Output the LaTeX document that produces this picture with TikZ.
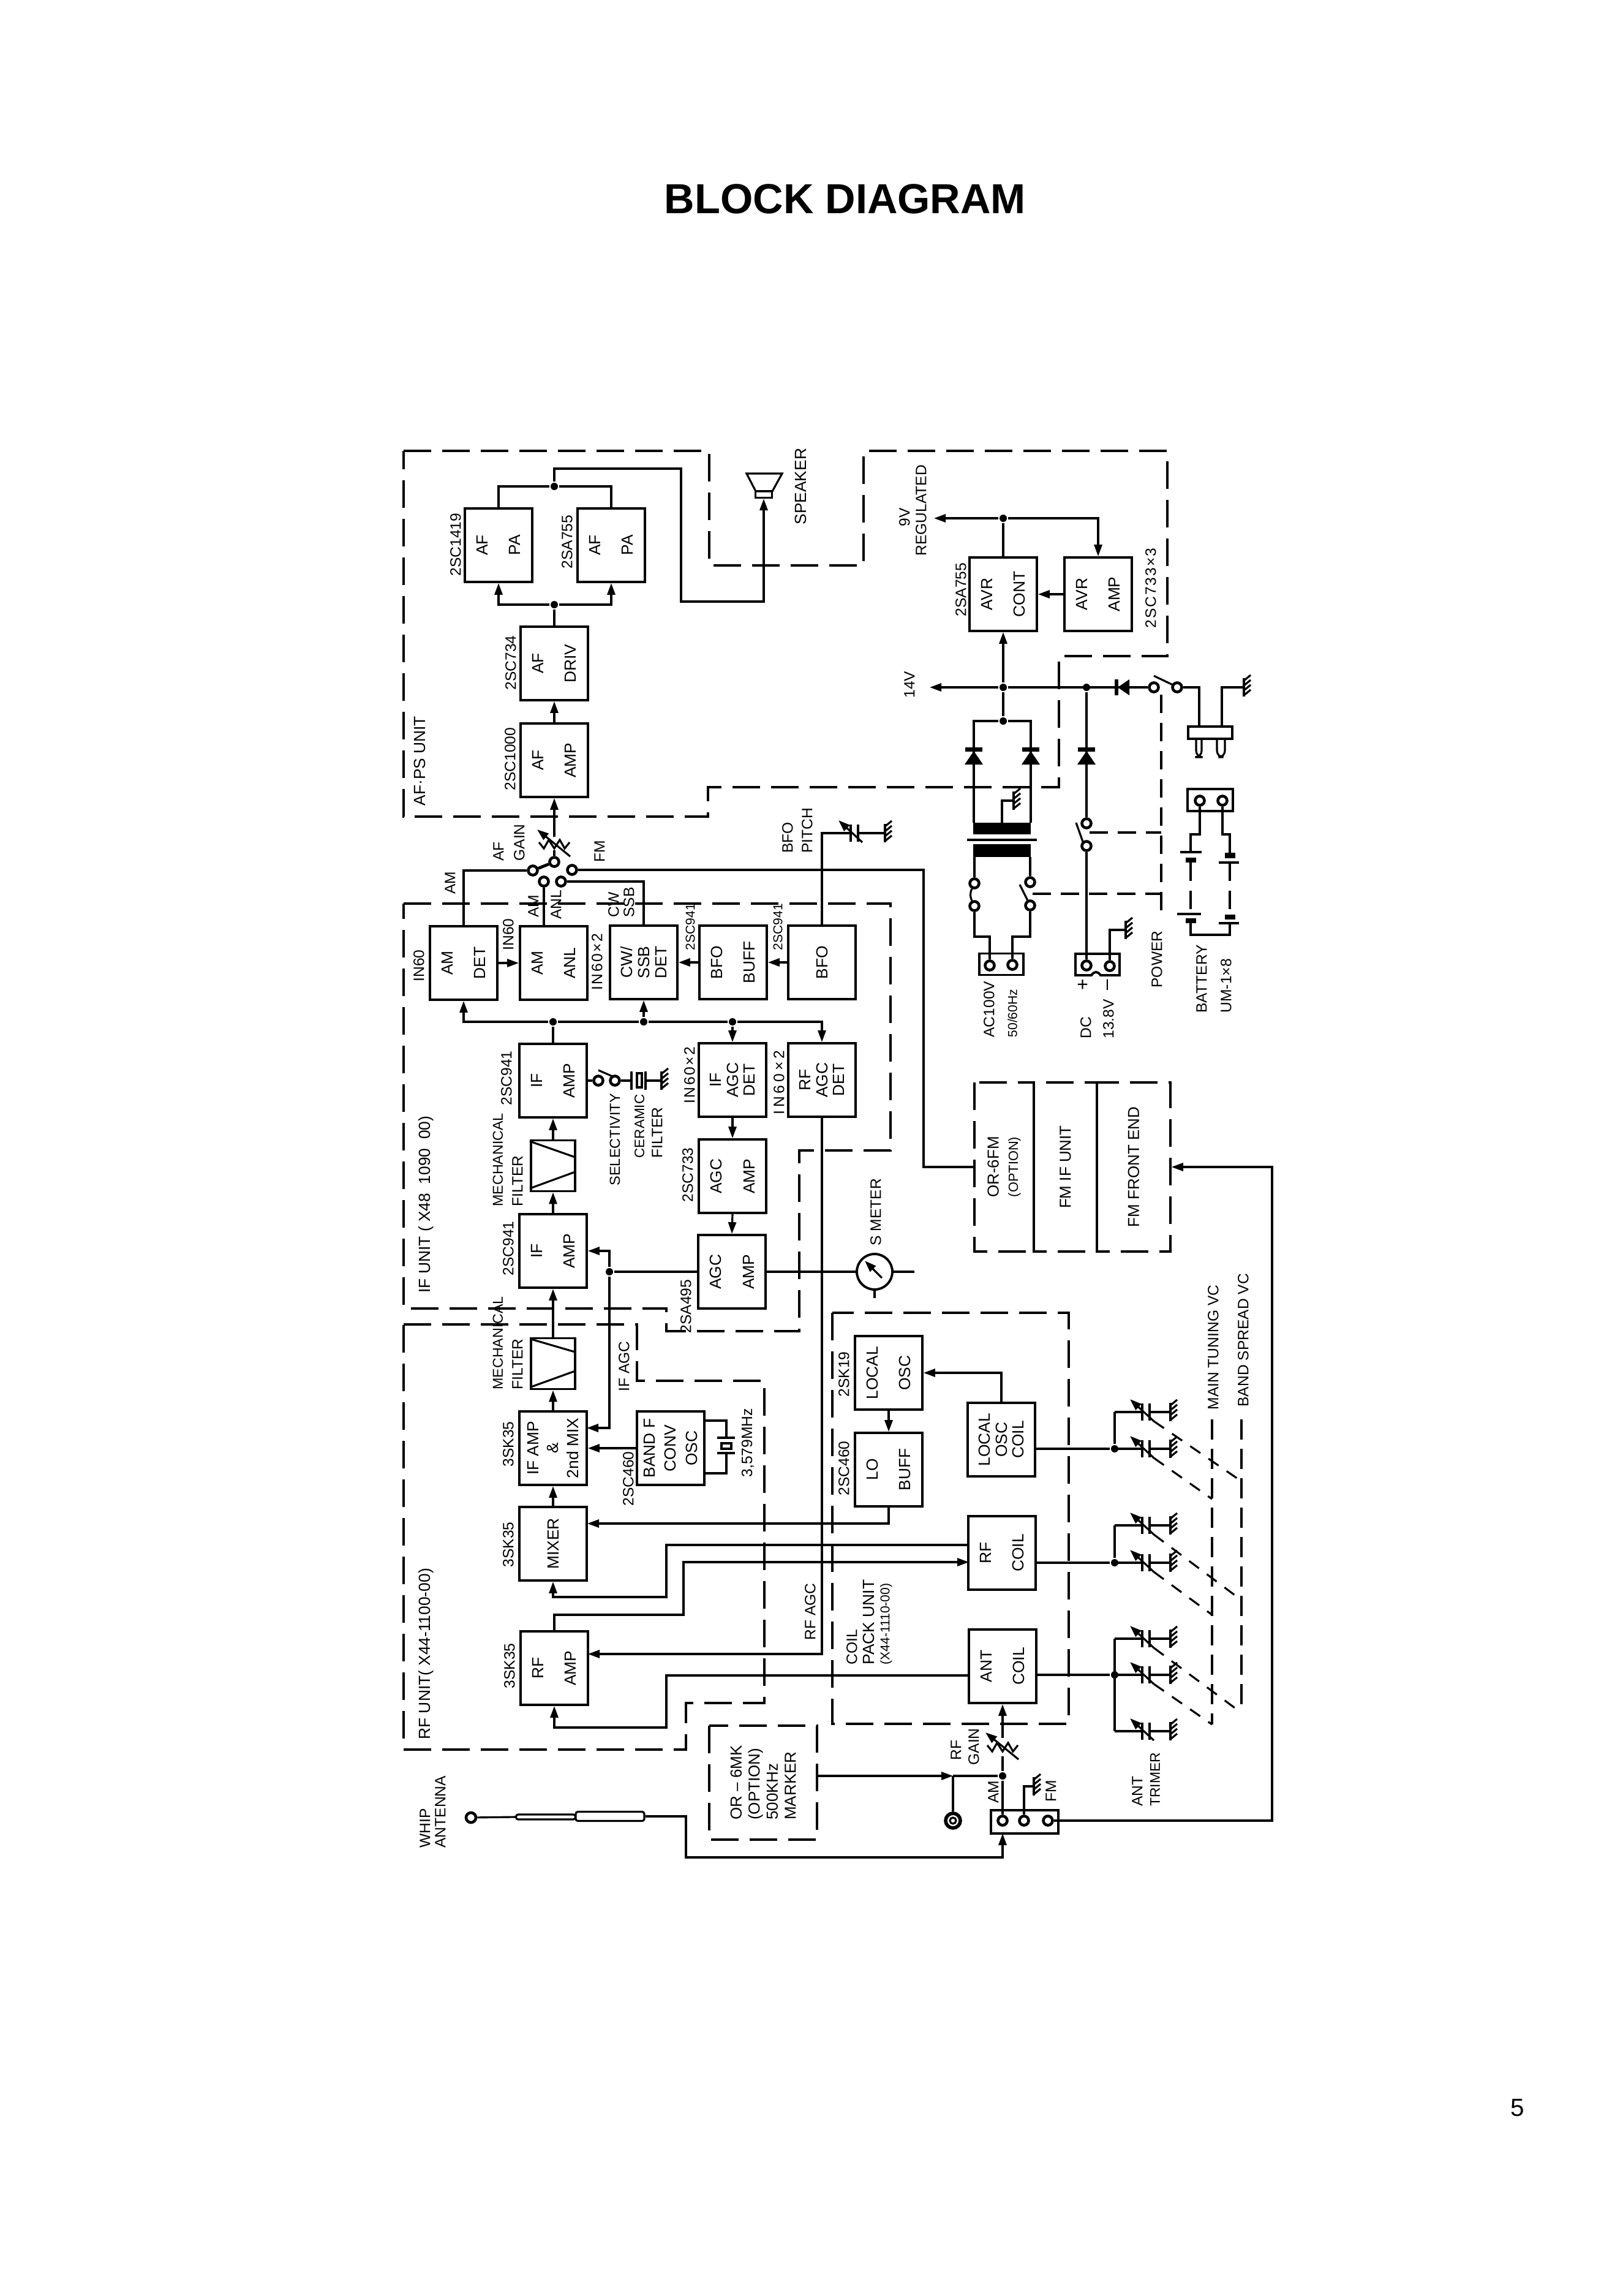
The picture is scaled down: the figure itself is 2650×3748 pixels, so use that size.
\documentclass[tikz,border=0pt]{standalone}
\usepackage{fontspec}
\setmainfont{Liberation Sans}
\usetikzlibrary{arrows.meta,shapes.geometric}

\tikzset{
    every path/.style={line width=0.9pt},
    arr/.style={-{Triangle[length=1.9mm,width=1.3mm]}},
    framedash/.style={line width=1pt, dash pattern=on 4.5mm off 1.8mm},
    linkdash/.style={line width=0.9pt, dash pattern=on 3mm off 1.6mm},
    gangdash/.style={line width=0.9pt, dash pattern=on 2mm off 1.6mm},
    vcdash/.style={line width=0.9pt, dash pattern=on 3.3mm off 1.5mm},
    blockbox/.style={draw, line width=1.1pt, rotate=90, minimum width=12cm/10, minimum height=11cm/10, inner sep=0pt, align=center, font=\fontsize{7.5}{15.3}\selectfont},
    blockthree/.style={blockbox, font=\fontsize{7.5}{7.9}\selectfont},
    fmbox/.style={draw, framedash, rotate=90, minimum width=27.6mm, inner sep=0pt, align=center, font=\fontsize{7.4}{9}\selectfont},
    filterbox/.style={draw, line width=1.1pt, minimum width=7.2mm, minimum height=8.3mm, inner sep=0pt},
    lbl/.style={rotate=90, anchor=west, inner sep=0pt, font=\fontsize{7}{8}\selectfont},
    lblsmall/.style={lbl, font=\fontsize{6}{7}\selectfont},
    lblwide/.style={lbl, font=\fontsize{7}{8}\selectfont\addfontfeature{LetterSpace=#1}},
    junc/.style={circle, fill=black, minimum size=1.2mm, inner sep=0pt},
    contact/.style={circle, draw, line width=1.3pt, fill=white, minimum size=1.5mm, inner sep=0pt},
    gnd/.pic={
        \draw (0,-15) -- (0,15);
        \foreach \t in {-11,-3,5,13}
            \draw (0,\t) -- (11,\t-9);
    },
    vcap/.pic={
        \draw (0,-14) -- (0,14);
        \draw (12,-14) -- (12,14);
        \draw[arr] (19,15) -- (-20,-21);
    },
    pot/.pic={
        \draw (-25,-3) -- (-17,7) -- (-9,-7) -- (0,7) -- (9,-7) -- (17,7) -- (25,-3);
        \draw[arr] (26,20) -- (-28,-24);
    },
}

\begin{document}
\begin{tikzpicture}[x=0.1mm,y=-0.1mm]
    \useasboundingbox (0,0) rectangle (2650,3748);

    \node[font=\bfseries\fontsize{19.5}{22}\selectfont, inner sep=0pt] (title) at (1380,325) {BLOCK DIAGRAM};
    \node[font=\fontsize{11.5}{13}\selectfont, inner sep=0pt] (pagenum) at (2478,3441) {5};

    % Unit frames
    \draw[framedash] (659,736) -- (1158,736) -- (1158,923) -- (1410,923) -- (1410,736) -- (1906,736) -- (1906,1071) -- (1729,1071) -- (1729,1285) -- (1156,1285) -- (1156,1333) -- (659,1333) -- cycle;
    \draw[framedash] (659,1475) -- (1454,1475) -- (1454,1878) -- (1305,1878) -- (1305,2173) -- (1088,2173) -- (1088,2136) -- (659,2136) -- cycle;
    \draw[framedash] (659,2162) -- (1040,2162) -- (1040,2254) -- (1248,2254) -- (1248,2780) -- (1120,2780) -- (1120,2856) -- (659,2856) -- cycle;
    \draw[framedash] (1359,2143) rectangle (1745,2814);

    % AF and PS blocks
    \node[blockbox] (afpa1) at (814,890) {AF\\PA};
    \node[blockbox] (afpa2) at (998,890) {AF\\PA};
    \node[blockbox] (afdriv) at (905,1083) {AF\\DRIV};
    \node[blockbox] (afamp) at (905,1241) {AF\\AMP};
    \node[blockbox] (avrcont) at (1638,970) {AVR\\CONT};
    \node[blockbox] (avramp) at (1793,970) {AVR\\AMP};

    % IF unit blocks
    \node[blockbox] (amdet) at (757,1572) {AM\\DET};
    \node[blockbox] (amanl) at (904,1572) {AM\\ANL};
    \node[blockthree] (cwdet) at (1051,1571) {CW/\\SSB\\DET};
    \node[blockbox] (bfobuff) at (1197,1571) {BFO\\BUFF};
    \node[blockbox] (bfo) at (1342,1571) {BFO};
    \node[blockbox] (ifamp2) at (903,1764) {IF\\AMP};
    \node[filterbox] (mfilt1) at (903,1903) {};
    \node[blockbox] (ifamp1) at (903,2042) {IF\\AMP};
    \node[blockthree] (ifagc) at (1196,1763) {IF\\AGC\\DET};
    \node[blockthree] (rfagc) at (1342,1763) {RF\\AGC\\DET};
    \node[blockbox] (agcamp1) at (1196,1920) {AGC\\AMP};
    \node[blockbox] (agcamp2) at (1195,2076) {AGC\\AMP};

    % RF unit blocks
    \node[filterbox] (mfilt2) at (903,2226) {};
    \node[blockthree, font=\fontsize{7.5}{9.2}\selectfont] (ifmix) at (903,2364) {IF AMP\\\&\\2nd MIX};
    \node[blockthree, font=\fontsize{7.5}{9.8}\selectfont] (bandf) at (1095,2364) {BAND F\\CONV\\OSC};
    \node[blockbox] (mixer) at (903,2520) {MIXER};
    \node[blockbox] (rfamp) at (905,2723) {RF\\AMP};

    % Coil pack blocks
    \node[blockbox] (localosc) at (1451,2241) {LOCAL\\OSC};
    \node[blockbox] (lobuff) at (1451,2399) {LO\\BUFF};
    \node[blockthree] (osccoil) at (1635,2350) {LOCAL\\OSC\\COIL};
    \node[blockbox] (rfcoil) at (1636,2535) {RF\\COIL};
    \node[blockbox] (antcoil) at (1637,2720) {ANT\\COIL};

    % FM and marker options
    \node[fmbox, minimum height=9.7mm] (orfm) at (1639.5,1905) {OR-6FM\\{\fontsize{6.2}{7}\selectfont (OPTION)}};
    \node[fmbox, minimum height=10.3mm] (fmif) at (1739.5,1905) {FM IF UNIT};
    \node[fmbox, minimum height=12mm] (fmfe) at (1851,1905) {FM FRONT END};
    \node[draw, framedash, rotate=90, minimum width=18.6mm, minimum height=17.6mm, inner sep=0pt, align=left, font=\fontsize{7.4}{8.4}\selectfont] (marker) at (1246,2910) {OR -- 6MK\\(OPTION)\\500KHz\\MARKER};

    % Junction dots
    \node[junc] (jpa) at (905,987) {};
    \node[junc] (jout) at (905,794) {};
    \node[junc] (jreg) at (1638,846) {};
    \node[junc] (jbus) at (1638,1122) {};
    \node[junc] (jrect) at (1638,1177) {};
    \node[junc] (jdc) at (1774,1122) {};
    \node[junc] (jdet1) at (903,1668) {};
    \node[junc] (jdet2) at (1051,1668) {};
    \node[junc] (jdet3) at (1196,1668) {};
    \node[junc] (jagc) at (995,2076) {};
    \node[junc] (jlo) at (1820,2365) {};
    \node[junc] (jrf) at (1820,2551) {};
    \node[junc] (jant) at (1820,2734) {};
    \node[junc] (jgain) at (1637,2899) {};

    % Contacts
    \node[contact] (cout) at (905,1407) {};
    \node[contact] (cam) at (870,1421) {};
    \node[contact] (canl) at (888,1439) {};
    \node[contact] (ccw) at (916,1439) {};
    \node[contact] (cfm) at (934,1420) {};
    \node[contact] (cpw1) at (1884,1122) {};
    \node[contact] (cpw2) at (1922,1122) {};
    \node[contact] (cac1) at (1591,1442) {};
    \node[contact] (cac2) at (1591,1479) {};
    \node[contact] (cac3) at (1682,1440) {};
    \node[contact] (cac4) at (1682,1478) {};
    \node[contact] (cdc1) at (1774,1344) {};
    \node[contact] (cdc2) at (1774,1381) {};
    \node[contact] (csel1) at (977,1764) {};
    \node[contact] (csel2) at (1004,1764) {};

    % Free ends
    \coordinate (afgaintop) at (905,1366);
    \coordinate (afgainlow) at (905,1388);
    \coordinate (v9) at (1525,846);
    \coordinate (v14) at (1518,1122);
    \coordinate (smend) at (1493,2076);
    \coordinate (fmin) at (2077,1905);
    \coordinate (ifmixin) at (958,2331);
    \coordinate (mixin) at (959,2487);
    \coordinate (rfin) at (960,2700);
    \coordinate (rfc1) at (1582,2522);
    \coordinate (rfc2) at (1582,2550);
    \coordinate (antc) at (1583,2735);
    \coordinate (rfgaintop) at (1637,2837);
    \coordinate (rfgainlow) at (1637,2867);
    \coordinate (conin) at (1637,2993);

    % AF chain
    \draw[arr] (afamp.east) -- (afdriv.west);
    \draw (afdriv.east) -- (jpa);
    \draw[arr] (jpa) -| (afpa1.west);
    \draw[arr] (jpa) -| (afpa2.west);
    \draw (afpa1.east) |- (jout) -| (afpa2.east);

    % Speaker
    \node[draw, minimum width=2.7mm, minimum height=1.1mm, inner sep=0pt] (spk) at (1247,807) {};
    \draw (1219,773) -- (1277,773) -- (1261,802) -- (1234,802) -- cycle;
    \draw[arr] (jout) |- (1112,765) |- (1247,982) -- (spk.south);

    % Mode switch and AF gain
    \draw[arr] (afgaintop) -- (afamp.west);
    \draw (cout) -- (afgainlow);
    \pic at (905,1378) {pot};
    \draw[line width=1.4pt] (cout) -- (cam);
    \draw (amdet.east) |- (cam);
    \draw (canl) -- (canl |- amanl.east);
    \draw (cwdet.east) |- (ccw);
    \draw (cfm) -| (1508,1905) -- (orfm.north);

    % AVR and 14V bus
    \draw (avrcont.east) -- (jreg);
    \draw[arr] (jreg) -- (v9);
    \draw[arr] (jreg) -| (avramp.east);
    \draw[arr] (avramp.north) -- (avrcont.south);
    \draw[arr] (jbus) -- (avrcont.west);
    \draw[arr] (jbus) -- (v14);
    \draw (jbus) -- (cpw1);
    \draw (jbus) -- (jrect);
    \draw (jdc) -- (cdc1);
    \draw (cpw1.north) ++(0,-9) -- (1915,1118);
    \draw (cdc1) ++(-17,-1) -- (1768,1374);
    \draw (cac3) ++(-17,4) -- (1678,1470);

    % Rectifier diodes
    \draw (jrect) -| (1590,1343);
    \draw (jrect) -| (1683,1343);
    \foreach \x in {1590,1683,1774} {
        \fill (\x-14,1220) rectangle (\x+14,1227);
        \fill (\x-15,1248) -- (\x+15,1248) -- (\x,1226) -- cycle;
    }
    \fill (1820,1109) rectangle (1826,1135);
    \fill (1844,1109) -- (1844,1135) -- (1825,1122) -- cycle;

    % Transformer
    \fill (1589,1343) rectangle (1683,1362);
    \fill (1589,1378) rectangle (1683,1399);
    \draw (1579,1371) -- (1693,1371);
    \draw (1636,1343) |- (1655,1307);
    \pic at (1655,1307) {gnd};
    \draw (1591,1399) -- (cac1);
    \draw (1682,1399) -- (cac3);
    \draw (cac1) to[bend right=25] (cac2);

    % AC socket
    \node[draw, line width=1.1pt, minimum width=7.2mm, minimum height=3.5mm, inner sep=0pt] (acsock) at (1635,1574) {};
    \node[contact] (cplug1) at (1616,1576) {};
    \node[contact] (cplug2) at (1653,1575) {};
    \draw (cac2) |- (1616,1529) -- (cplug1);
    \draw (cac4) |- (1653,1529) -- (cplug2);

    % DC socket
    \draw[line width=1.1pt] (1756,1557) -- (1828,1557) -- (1828,1592) -- (1797,1592) .. controls (1792,1585) and (1787,1585) .. (1782,1592) -- (1756,1592) -- cycle;
    \node[contact] (cjack1) at (1774,1576) {};
    \node[contact] (cjack2) at (1812,1577) {};
    \draw (cdc2) -- (cjack1);
    \draw (cjack2) |- (1838,1518);
    \pic at (1838,1518) {gnd};

    % Power switch links
    \draw[linkdash] (1896,1134) -- (1896,1499);
    \draw[linkdash] (cdc1) ++(5,15) -- (1896,1359);
    \draw[linkdash] (1686,1459) -- (1896,1459);

    % Mains plug
    \node[draw, line width=1.1pt, minimum width=7.2mm, minimum height=2mm, inner sep=0pt] (plug) at (1976,1196) {};
    \draw[rounded corners=3pt] (1953,1206) -- (1953,1236) -- (1962,1236) -- (1962,1206);
    \draw[rounded corners=3pt] (1987,1206) -- (1987,1236) -- (2000,1236) -- (2000,1206);
    \draw (cpw2) -| (1958,1186);
    \draw (1995,1186) |- (2031,1122);
    \pic at (2031,1122) {gnd};

    % Battery
    \node[draw, line width=1.1pt, minimum width=7.4mm, minimum height=3.6mm, inner sep=0pt] (batsock) at (1976,1306) {};
    \node[contact] (cbat1) at (1959,1307) {};
    \node[contact] (cbat2) at (1996,1307) {};
    \draw (cbat1) |- (1944,1362) -- (1944,1391);
    \draw (cbat2) |- (2008,1362) -- (2008,1392);
    \draw (1927,1391) -- (1962,1391);
    \fill (1936,1400) rectangle (1953,1408);
    \fill (2000,1392) rectangle (2017,1401);
    \draw (1990,1408) -- (2023,1408);
    \draw[linkdash] (1944,1408) -- (1944,1492);
    \draw[linkdash] (2008,1408) -- (2008,1493);
    \draw (1922,1492) -- (1961,1492);
    \fill (1936,1499) rectangle (1953,1507);
    \fill (2000,1493) rectangle (2017,1501);
    \draw (1990,1507) -- (2023,1507);
    \draw (1944,1507) |- (2008,1526) -- (2008,1507);

    % Detector row
    \draw[arr] (bfo.north) -- (bfobuff.south);
    \draw[arr] (bfobuff.north) -- (cwdet.south);
    \draw[arr] (amdet.south) -- (amanl.north);
    \draw (ifamp2.east) -- (jdet1);
    \draw[arr] (jdet1) -| (amdet.west);
    \draw (jdet1) -- (jdet2);
    \draw (jdet2) -- (jdet3);
    \draw[arr] (jdet2) -- (cwdet.west);
    \draw[arr] (jdet3) -- (ifagc.east);
    \draw[arr] (jdet3) -| (rfagc.east);

    % BFO pitch
    \draw (bfo.east) |- (1389,1360);
    \pic at (1389,1360) {vcap};
    \draw (1401,1360) -- (1445,1360);
    \pic at (1445,1360) {gnd};

    % IF chain
    \draw[arr] (mixer.east) -- (ifmix.west);
    \draw[arr] (ifmix.east) -- (mfilt2.south);
    \draw[arr] (mfilt2.north) -- (ifamp1.west);
    \draw[arr] (ifamp1.east) -- (mfilt1.south);
    \draw[arr] (mfilt1.north) -- (ifamp2.west);
    \draw (865,1863) -- (939,1889);
    \draw (865,1940) -- (939,1913);
    \draw (867,2186) -- (939,2207);
    \draw (867,2264) -- (939,2238);

    % Selectivity
    \draw (ifamp2.south) -- (csel1);
    \draw (csel2) ++(-4,-7) -- (977,1747);
    \draw (csel2) -- (1031,1764);
    \draw (1031,1749) -- (1031,1779);
    \draw (1040,1752) rectangle (1048,1775);
    \draw (1054,1749) -- (1054,1779);
    \draw (1054,1764) -- (1080,1764);
    \pic at (1080,1764) {gnd};

    % AGC chain
    \draw[arr] (ifagc.west) -- (agcamp1.east);
    \draw[arr] (agcamp1.west) -- (agcamp2.east);
    \draw (agcamp2.north) -- (jagc);
    \draw[arr] (jagc) |- (ifamp1.south);
    \draw[arr] (jagc) |- (ifmixin);
    \draw[arr] (rfagc.west) |- (rfin);

    % S meter
    \node[circle, draw, line width=1.1pt, minimum size=5.8mm, inner sep=0pt] (smeter) at (1428,2076) {};
    \draw (agcamp2.south) -- (smeter);
    \draw (smeter) -- (smend);
    \draw[arr] (1440,2086) -- (1412,2058);
    \draw (1428,2107) -- (1428,2119);

    % Band F oscillator
    \draw[arr] (bandf.north) -- (ifmix.south);
    \draw (1151,2319) -| (1186,2347);
    \draw (1151,2405) -| (1186,2372);
    \draw (1171,2347) -- (1200,2347);
    \draw (1178,2356) rectangle (1194,2365);
    \draw (1171,2372) -- (1200,2372);

    % Local oscillator and coils
    \draw[arr] (localosc.west) -- (lobuff.east);
    \draw[arr] (osccoil.east) |- (localosc.south);
    \draw[arr] (lobuff.west) |- (mixin);
    \draw[arr] (rfc1) -| (1088,2607) -| (mixer.west);
    \draw[arr] (rfamp.east) |- (1116,2636) |- (rfc2);
    \draw[arr] (antc) -| (1088,2820) -| (rfamp.west);

    % Tuning capacitors
    \draw (jlo -| osccoil.south) -- (jlo);
    \draw (jrf -| rfcoil.south) -- (jrf);
    \draw (jant -| antcoil.south) -- (jant);
    \draw (jlo) -- (1820,2305);
    \draw (jrf) -- (1820,2490);
    \draw (1820,2675) -- (1820,2826);
    \foreach \y in {2305,2365,2490,2551,2675,2734,2826} {
        \draw (1820,\y) -- (1865,\y);
        \pic at (1865,\y) {vcap};
        \draw (1877,\y) -- (1911,\y);
        \pic at (1911,\y) {gnd};
    }
    \foreach \ya/\xb/\yb in {2305/2027/2418, 2365/1979/2447, 2490/2027/2612, 2551/1979/2636, 2675/2027/2796, 2734/1979/2815}
        \draw[gangdash] (1884,\ya+15) -- (\xb,\yb);
    \draw[vcdash] (1979,2317) -- (1979,2815);
    \draw[vcdash] (2027,2317) -- (2027,2796);

    % Antenna input
    \draw[arr] (rfgaintop) -- (antcoil.west);
    \draw (jgain) -- (rfgainlow);
    \pic at (1637,2852) {pot};
    \node[draw, line width=1.1pt, minimum width=11mm, minimum height=3.8mm, inner sep=0pt] (conbox) at (1673,2974) {};
    \node[contact] (c1) at (1637,2972) {};
    \node[contact] (c2) at (1672,2972) {};
    \node[contact] (c3) at (1711,2972) {};
    \draw (jgain) -- (c1);
    \draw (c2) |- (1688,2916);
    \pic at (1688,2916) {gnd};
    \draw[arr] (c3) -| (fmin) -- (fmfe.south);
    \node[circle, draw, line width=1.6pt, fill=white, minimum size=2.4mm, inner sep=0pt] (cjack) at (1556,2972) {};
    \node[circle, draw, line width=0.9pt, minimum size=1mm, inner sep=0pt] (cjackin) at (1556,2972) {};
    \coordinate (jackup) at (1556,2899);
    \draw[arr] (marker.south |- jgain) -- (jackup);
    \draw (jackup) -- (jgain);
    \draw (jackup) -- (cjack);

    % Whip antenna
    \node[circle, draw, line width=1.3pt, minimum size=1.6mm, inner sep=0pt] (wtip) at (769,2967) {};
    \node[draw, rounded corners=1pt, minimum width=9.7mm, minimum height=0.8mm, inner sep=0pt] (tube1) at (891,2966) {};
    \node[draw, rounded corners=1pt, minimum width=11.2mm, minimum height=1.5mm, inner sep=0pt] (tube2) at (996,2965) {};
    \draw (wtip) -- (tube1.west);
    \draw[arr] (tube2.east) -| (1120,3032) -| (conin);

    % Labels
    \node[lbl] (l2sc1419) at (744,942) {2SC1419};
    \node[lbl] (l2sa755a) at (926,930) {2SA755};
    \node[lbl] (l2sc734) at (834,1128) {2SC734};
    \node[lbl] (l2sc1000) at (833,1292) {2SC1000};
    \node[lbl, font=\fontsize{7.5}{8}\selectfont] (lafps) at (685,1317) {AF·PS UNIT};
    \node[lbl, font=\fontsize{7.5}{8}\selectfont] (lspeaker) at (1307,858) {SPEAKER};
    \node[lbl] (l9v) at (1477,861) {9V};
    \node[lbl] (lregulated) at (1504,909) {REGULATED};
    \node[lbl] (l14v) at (1485,1141) {14V};
    \node[lbl] (l2sa755b) at (1569,1008) {2SA755};
    \node[lblwide=8] (l2sc733x) at (1879,1027) {2SC733×3};
    \node[lbl] (lafgain1) at (814,1407) {AF};
    \node[lbl] (lafgain2) at (848,1407) {GAIN};
    \node[lbl] (lfm) at (979,1409) {FM};
    \node[lbl] (lamtop) at (735,1461) {AM};
    \node[lbl] (lam) at (871,1499) {AM};
    \node[lbl] (lanl) at (908,1502) {ANL};
    \node[lbl] (lcw) at (1002,1499) {CW};
    \node[lbl] (lssb) at (1027,1499) {SSB};
    \node[lbl] (lbfo) at (1286,1394) {BFO};
    \node[lbl] (lpitch) at (1318,1394) {PITCH};
    \node[lbl] (lin60a) at (684,1604) {IN60};
    \node[lbl] (lin60b) at (830,1553) {IN60};
    \node[lblwide=10] (lin60c) at (975,1618) {IN60×2};
    \node[lblsmall] (l2sc941a) at (1127,1553) {2SC941};
    \node[lblsmall] (l2sc941b) at (1270,1553) {2SC941};
    \node[lbl] (l2sc941c) at (827,1806) {2SC941};
    \node[lbl] (l2sc941d) at (830,2084) {2SC941};
    \node[lbl, font=\fontsize{6.6}{8}\selectfont] (lmecha) at (813,1971) {MECHANICAL};
    \node[lbl] (lfilta) at (845,1971) {FILTER};
    \node[lbl, font=\fontsize{6.7}{8}\selectfont] (lselect) at (1004,1937) {SELECTIVITY};
    \node[lbl, font=\fontsize{6.4}{8}\selectfont] (lceramic) at (1044,1892) {CERAMIC};
    \node[lbl] (lfiltc) at (1073,1892) {FILTER};
    \node[lblwide=10] (lin60d) at (1126,1803) {IN60×2};
    \node[lblwide=20] (lin60e) at (1272,1821) {IN60×2};
    \node[lbl] (l2sc733) at (1123,1964) {2SC733};
    \node[lbl] (l2sa495) at (1120,2178) {2SA495};
    \node[lbl, font=\fontsize{7.5}{8}\selectfont] (lifunit) at (696,2112) {IF UNIT ( X48\ \ 1090\ \ 00)};
    \node[lbl] (lsmeter) at (1430,2035) {S METER};
    \node[lbl, font=\fontsize{6.6}{8}\selectfont] (lmechb) at (813,2270) {MECHANICAL};
    \node[lbl] (lfiltb) at (845,2270) {FILTER};
    \node[lbl] (lifagc) at (1019,2273) {IF AGC};
    \node[lbl] (l3sk35a) at (830,2396) {3SK35};
    \node[lbl] (l2sc460a) at (1026,2460) {2SC460};
    \node[lbl] (lxtal) at (1221,2413) {3,579MHz};
    \node[lbl] (l3sk35b) at (830,2560) {3SK35};
    \node[lbl] (l3sk35c) at (832,2758) {3SK35};
    \node[lbl] (lrfagc) at (1323,2679) {RF AGC};
    \node[lbl, font=\fontsize{7.5}{8}\selectfont] (lrfunit) at (696,2841) {RF UNIT( X44-1100-00)};
    \node[lbl] (l2sk19) at (1378,2282) {2SK19};
    \node[lbl] (l2sc460b) at (1378,2443) {2SC460};
    \node[lbl] (lcoil) at (1391,2719) {COIL};
    \node[lbl, font=\fontsize{7.5}{8}\selectfont] (lpack) at (1418,2719) {PACK UNIT};
    \node[lblsmall] (lx44) at (1447,2719) {(X44-1110-00)};
    \node[lbl] (lac100) at (1615,1695) {AC100V};
    \node[lblsmall] (lac50) at (1653,1695) {50/60Hz};
    \node[lbl, font=\fontsize{9}{10}\selectfont] (lplus) at (1769,1618) {+};
    \node[lbl, font=\fontsize{9}{10}\selectfont] (lminus) at (1812,1618) {--};
    \node[lbl] (ldc) at (1773,1697) {DC};
    \node[lbl] (l138v) at (1810,1697) {13.8V};
    \node[lbl] (lpower) at (1889,1614) {POWER};
    \node[lbl] (lbattery) at (1962,1655) {BATTERY};
    \node[lbl] (lum) at (2002,1655) {UM-1×8};
    \node[lbl] (lmain) at (1981,2303) {MAIN TUNING VC};
    \node[lbl] (lband) at (2030,2298) {BAND SPREAD VC};
    \node[lbl] (lrfgain1) at (1561,2875) {RF};
    \node[lbl] (lrfgain2) at (1590,2883) {GAIN};
    \node[lbl] (lamin) at (1622,2945) {AM};
    \node[lbl] (lfmin) at (1716,2943) {FM};
    \node[lbl] (lant) at (1857,2950) {ANT};
    \node[lbl, font=\fontsize{6.5}{8}\selectfont] (ltrimer) at (1886,2950) {TRIMER};
    \node[lbl] (lwhip) at (694,3018) {WHIP};
    \node[lbl] (lantenna) at (719,3018) {ANTENNA};
\end{tikzpicture}
\end{document}
